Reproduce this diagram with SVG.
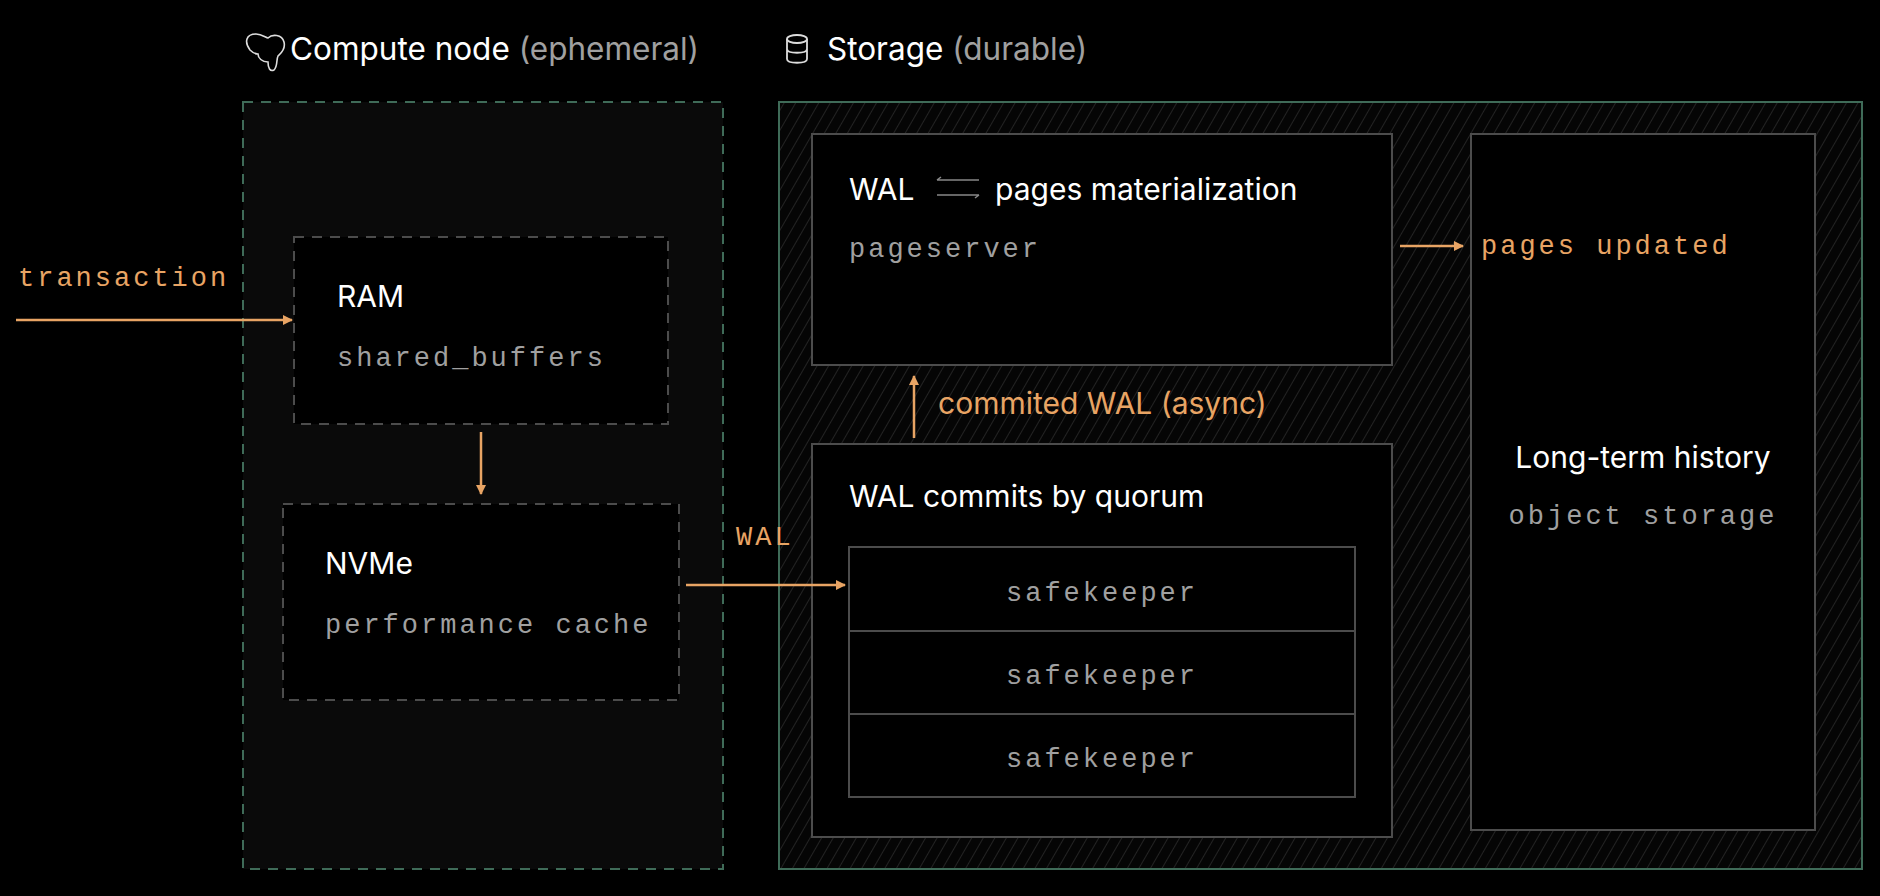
<svg xmlns="http://www.w3.org/2000/svg" width="1880" height="896" viewBox="0 0 1880 896">
<style>
.s{font-family:Inter,"Noto Sans",sans-serif;font-size:30px}
.t{font-size:31.5px}
.m{font-family:"Liberation Mono",monospace;font-size:27px;letter-spacing:3px}
.w{fill:#fff}.g{fill:#a0a0a0}.o{fill:#e8a464}
.box{fill:#000;stroke:#4c4c4c;stroke-width:2}
.dash{stroke-dasharray:10 8}
.ar{stroke:#e8a464;stroke-width:2.5;fill:none}
</style>
<defs>
<pattern id="hatch" width="10" height="10" patternUnits="userSpaceOnUse" patternTransform="rotate(30)">
<rect width="10" height="10" fill="#050505"/><line x1="0" y1="0" x2="0" y2="10" stroke="#2c2c2c" stroke-width="1.5"/>
</pattern>
<marker id="ah" markerWidth="10" markerHeight="10" refX="9" refY="5" orient="auto" markerUnits="userSpaceOnUse"><path d="M0,0 L10,5 L0,10 z" fill="#e8a464"/></marker>
</defs>
<rect width="1880" height="896" fill="#000"/>
<g id="compute">
<rect x="243" y="102" width="480" height="767" fill="#0a0a0a" stroke="#3f6b58" stroke-width="2" class="dash"/>
<path d="M250,50 c-6,-8 -4,-16 6,-16 c6,0 10,4 12,4 c4,-4 14,-4 16,4 c2,8 -4,12 -6,14 c-2,4 0,10 -4,14 c-4,2 -6,-2 -6,-8 c-6,0 -10,-4 -10,-8 c-4,0 -6,-2 -8,-4 z" fill="none" stroke="#ddd" stroke-width="1.6"/>
<text x="290" y="60" class="s t"><tspan class="w">Compute node</tspan><tspan class="g"> (ephemeral)</tspan></text>
</g>
<g id="storage">
<rect x="779" y="102" width="1083" height="767" fill="url(#hatch)" stroke="#3f6b58" stroke-width="2"/>
<g fill="none" stroke="#ddd" stroke-width="1.8"><ellipse cx="797" cy="39" rx="10" ry="4"/><path d="M787,39 v20 c0,5 20,5 20,0 v-20 M787,49 c0,5 20,5 20,0"/></g>
<text x="827" y="60" class="s t"><tspan class="w">Storage</tspan><tspan class="g"> (durable)</tspan></text>
</g>
<g id="ram">
<rect x="294" y="237" width="374" height="187" class="box dash"/>
<text x="337" y="307" class="s w">RAM</text>
<text x="337" y="366" class="m g">shared_buffers</text>
</g>
<g id="nvme">
<rect x="283" y="504" width="396" height="196" class="box dash"/>
<text x="325" y="574" class="s w">NVMe</text>
<text x="325" y="633" class="m g">performance cache</text>
</g>
<g id="pageserver">
<rect x="812" y="134" width="580" height="231" class="box"/>
<text x="849" y="200" class="s w">WAL</text>
<g stroke="#888" stroke-width="1.5" fill="none"><path d="M937,180 h42 M937,180 l4,-3 M937,195 h42 M979,195 l-4,3"/></g>
<text x="995" y="200" class="s w">pages materialization</text>
<text x="849" y="257" class="m g">pageserver</text>
</g>
<g id="safekeepers">
<rect x="812" y="444" width="580" height="393" class="box"/>
<text x="849" y="507" class="s w">WAL commits by quorum</text>
<rect x="849" y="547" width="506" height="250" class="box"/>
<line x1="849" y1="631" x2="1355" y2="631" stroke="#4c4c4c" stroke-width="2"/>
<line x1="849" y1="714" x2="1355" y2="714" stroke="#4c4c4c" stroke-width="2"/>
<text x="1102" y="601" class="m g" text-anchor="middle">safekeeper</text>
<text x="1102" y="684" class="m g" text-anchor="middle">safekeeper</text>
<text x="1102" y="767" class="m g" text-anchor="middle">safekeeper</text>
</g>
<g id="history">
<rect x="1471" y="134" width="344" height="696" class="box"/>
<text x="1643" y="468" class="s w" text-anchor="middle">Long-term history</text>
<text x="1643" y="524" class="m g" text-anchor="middle">object storage</text>
</g>
<g id="connectors">
<path d="M16,320 H292" class="ar" marker-end="url(#ah)"/>
<text x="18" y="286" class="m o">transaction</text>
<path d="M481,432 V494" class="ar" marker-end="url(#ah)"/>
<path d="M686,585 H845" class="ar" marker-end="url(#ah)"/>
<text x="736" y="545" class="m o">WAL</text>
<path d="M914,438 V376" class="ar" marker-end="url(#ah)"/>
<text x="938" y="414" class="s o">commited WAL (async)</text>
<path d="M1400,246 H1463" class="ar" marker-end="url(#ah)"/>
<text x="1481" y="254" class="m o">pages updated</text>
</g>
</svg>
